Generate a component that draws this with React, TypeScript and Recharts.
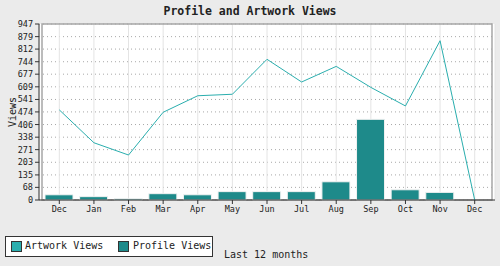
import React from "react";
import {
  ComposedChart,
  Bar,
  Line,
  XAxis,
  YAxis,
  CartesianGrid,
  ReferenceArea,
} from "recharts";

const months = ["Dec", "Jan", "Feb", "Mar", "Apr", "May", "Jun", "Jul", "Aug", "Sep", "Oct", "Nov", "Dec"];
const artworkViews = [485, 308, 242, 472, 561, 569, 757, 635, 719, 606, 506, 857, 0];
const profileViews = [28, 18, 7, 34, 28, 45, 45, 45, 98, 434, 55, 41, 0];
const yTicks = [0, 68, 135, 203, 271, 338, 406, 474, 541, 609, 677, 744, 812, 879, 947];

const data = months.map((m, i) => ({
  month: m,
  artwork: artworkViews[i],
  profile: profileViews[i],
}));

const MONO = "'DejaVu Sans Mono', 'Liberation Mono', monospace";

export default function App() {
  return (
    <div
      style={{
        position: "absolute",
        left: 0,
        top: 0,
        width: 500,
        height: 266,
        background: "#ebebeb",
        fontFamily: MONO,
      }}
    >
      <div
        style={{
          position: "absolute",
          left: 0,
          top: 4,
          width: 500,
          textAlign: "center",
          fontWeight: "bold",
          fontSize: 11.5,
          color: "#222",
          lineHeight: "14px",
        }}
      >
        Profile and Artwork Views
      </div>
      <ComposedChart
        width={500}
        height={266}
        data={data}
        margin={{ top: 24, right: 5, bottom: 36, left: 0 }}
        style={{ position: "absolute", left: 0, top: 0 }}
      >
        <CartesianGrid
          fill="#ffffff"
          vertical={false}
          stroke="#a8a8a8"
          strokeDasharray="1 3"
        />
        <CartesianGrid horizontal={false} stroke="#e4e4e4" />
        <ReferenceArea
          y1={0}
          y2={947}
          fill="none"
          stroke="#a6a6a6"
          strokeWidth={1.5}
          ifOverflow="visible"
        />
        <XAxis
          dataKey="month"
          interval={0}
          padding={{ left: 3, right: 3 }}
          height={30}
          tickSize={4}
          axisLine={{ stroke: "#333" }}
          tickLine={{ stroke: "#333" }}
          tick={{ fill: "#222", fontSize: 8.5, fontFamily: MONO }}
        />
        <YAxis
          domain={[0, 947]}
          ticks={yTicks}
          interval={0}
          width={39}
          tickSize={4}
          axisLine={{ stroke: "#333" }}
          tickLine={{ stroke: "#333" }}
          tick={{ fill: "#222", fontSize: 8.5, fontFamily: MONO }}
          label={{
            value: "Views",
            angle: -90,
            position: "insideLeft",
            offset: 12,
            style: { fontSize: 10, fontFamily: MONO, fill: "#222", textAnchor: "middle" },
          }}
        />
        <Bar
          dataKey="profile"
          fill="#1e8a8a"
          stroke="#f2f2f2"
          strokeWidth={1}
          barSize={28}
          isAnimationActive={false}
        />
        <Line
          type="linear"
          dataKey="artwork"
          stroke="#2aaeae"
          strokeWidth={1}
          dot={false}
          isAnimationActive={false}
        />
      </ComposedChart>
      <div
        style={{
          position: "absolute",
          left: 5,
          top: 236,
          width: 206,
          height: 19,
          border: "1px solid #333",
          background: "#fff",
          boxSizing: "content-box",
        }}
      >
        <div
          style={{
            position: "absolute",
            left: 5,
            top: 4,
            width: 9,
            height: 9,
            background: "#2aaeae",
            border: "1px solid #333",
          }}
        />
        <div
          style={{
            position: "absolute",
            left: 19,
            top: 3,
            fontSize: 10,
            lineHeight: "12px",
            color: "#222",
            whiteSpace: "nowrap",
          }}
        >
          Artwork Views
        </div>
        <div
          style={{
            position: "absolute",
            left: 112,
            top: 4,
            width: 9,
            height: 9,
            background: "#1e8a8a",
            border: "1px solid #333",
          }}
        />
        <div
          style={{
            position: "absolute",
            left: 127,
            top: 3,
            fontSize: 10,
            lineHeight: "12px",
            color: "#222",
            whiteSpace: "nowrap",
          }}
        >
          Profile Views
        </div>
      </div>
      <div
        style={{
          position: "absolute",
          left: 224,
          top: 249,
          fontSize: 10,
          lineHeight: "12px",
          color: "#222",
          whiteSpace: "nowrap",
        }}
      >
        Last 12 months
      </div>
    </div>
  );
}
